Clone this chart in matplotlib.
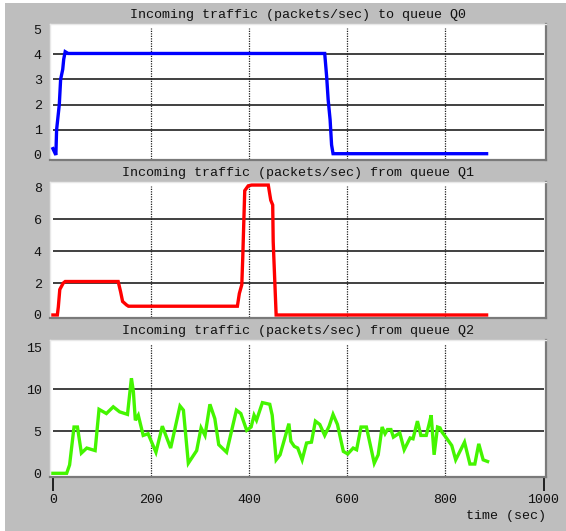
import matplotlib
matplotlib.use('Agg')
import matplotlib.pyplot as plt
from matplotlib.patches import Rectangle

# Incoming traffic samples (time in sec, rate in packets/sec)
t_q0 = [0, 6, 7.5, 13, 15.7, 20, 22, 25, 31, 554, 558, 561, 565, 568, 571, 884]
rate_q0 = [0.25, 0, 1.0, 2.0, 3.0, 3.4, 3.8, 4.1, 4.03, 4.03, 3.1, 2.2, 1.4, 0.4, 0.05, 0.05]

t_q1 = [0, 9, 11, 14, 21, 25, 133, 138, 142, 150, 154, 376, 380, 385, 387, 389,
        391, 398, 405, 439, 444, 448, 449, 452, 455, 884]
rate_q1 = [0, 0, 0.5, 1.6, 2.0, 2.1, 2.1, 1.45, 0.85, 0.63, 0.55, 0.55, 1.35, 1.9,
           3.65, 5.75, 7.8, 8.1, 8.15, 8.15, 7.2, 6.9, 4.6, 2.3, 0, 0]

t_q2 = [0, 28, 34, 43, 50, 58, 69, 86, 94, 109, 123, 136, 152, 160, 164, 168, 174,
        184, 194, 210, 223, 240, 259, 266, 276, 293, 302, 310, 320, 330, 338, 354,
        374, 383, 395, 404, 410, 415, 427, 442, 447, 455, 463, 481, 485, 492, 499,
        508, 517, 527, 535, 544, 554, 563, 571, 580, 592, 601, 612, 619, 628, 639,
        655, 663, 671, 677, 682, 689, 694, 707, 716, 728, 734, 743, 750, 761, 767,
        771, 777, 784, 789, 793, 802, 813, 821, 839, 850, 860, 868, 877, 886]
rate_q2 = [0, 0, 1.0, 5.5, 5.5, 2.4, 3.0, 2.7, 7.6, 7.1, 7.9, 7.3, 7.0, 11.3, 9.7,
           6.3, 6.9, 4.5, 4.7, 2.5, 5.6, 3.0, 8.0, 7.5, 1.2, 2.7, 5.4, 4.5, 8.2, 6.5,
           3.4, 2.5, 7.5, 7.1, 5.1, 5.5, 6.9, 6.3, 8.4, 8.2, 6.9, 1.6, 2.2, 5.9, 3.8,
           3.2, 3.0, 1.6, 3.6, 3.7, 6.2, 5.8, 4.5, 5.6, 7.0, 5.8, 2.6, 2.3, 3.0, 2.8,
           5.5, 5.5, 1.2, 2.2, 5.5, 4.7, 5.2, 5.2, 4.3, 4.8, 2.8, 4.2, 4.1, 6.2, 4.5,
           4.5, 5.9, 6.9, 2.2, 5.5, 5.4, 4.9, 4.2, 3.3, 1.6, 3.7, 1.1, 1.1, 3.5, 1.6,
           1.4]

x_ticks = [0, 200, 400, 600, 800, 1000]

panels = [
    ('Incoming traffic (packets/sec) to queue Q0', t_q0, rate_q0, '#0000ff',
     [0, 1, 2, 3, 4, 5], (-0.2, 5.2)),
    ('Incoming traffic (packets/sec) from queue Q1', t_q1, rate_q1, '#ff0000',
     [0, 2, 4, 6, 8], (-0.19, 8.34)),
    ('Incoming traffic (packets/sec) from queue Q2', t_q2, rate_q2, '#44f500',
     [0, 5, 10, 15], (-0.44, 15.84)),
]

plt.rcParams['font.family'] = ['Liberation Mono', 'DejaVu Sans Mono']
plt.rcParams['font.size'] = 9.6
text_color = '#111111'

fig = plt.figure(figsize=(5.66, 5.31), dpi=100, facecolor='white')
# gray panel behind everything
fig.patches.append(Rectangle((5 / 566, 0), 1, 1 - 3 / 531, transform=fig.transFigure,
                             facecolor='#bebebe', edgecolor='none', zorder=-10))

bottoms = [0.6987, 0.4011, 0.1017]
heights = [0.2561, 0.2561, 0.258]

for i, (title, t, rate, color, yticks, ylim) in enumerate(panels):
    ax = fig.add_axes([0.0883, bottoms[i], 0.8763, heights[i]])
    ax.set_facecolor('white')
    ax.set_xlim(-6, 1005)
    ax.set_ylim(*ylim)

    # solid horizontal grid inside, dotted vertical grid
    ax.hlines(yticks[1:-1], 0, 1000, color='#202020', lw=1.2, zorder=1)
    for x in x_ticks[1:-1]:
        ax.axvline(x, ymin=0.01, ymax=0.97, color='#202020', lw=0.9,
                   linestyle=(0, (1, 1)), zorder=1)

    ax.plot(t, rate, color=color, lw=2.4, zorder=3, solid_joinstyle='miter')

    ax.set_title(title, fontsize=9.6, color=text_color, pad=4)
    ax.set_yticks(yticks)
    ax.set_yticklabels([str(v) for v in yticks], color=text_color)
    ax.tick_params(axis='y', length=0, pad=6)

    for side in ('left', 'top'):
        ax.spines[side].set_color('#e8e8e8')
        ax.spines[side].set_linewidth(1)
    for side in ('right', 'bottom'):
        ax.spines[side].set_color('#7a7a7a')
        ax.spines[side].set_linewidth(1.6)

    if i < 2:
        ax.set_xticks([])
    else:
        ax.set_xticks(x_ticks)
        ax.set_xticklabels([str(v) for v in x_ticks], color=text_color)
        ax.tick_params(axis='x', direction='out', length=10, width=1.4,
                       color='#202020', pad=2)
        ticks = ax.xaxis.get_major_ticks()
        for tk in ticks[1:-1]:
            tk.tick1line.set_visible(False)
        ax.text(1.0, -0.24, 'time (sec)', transform=ax.transAxes, ha='right',
                va='top', color=text_color, fontsize=9.6)

fig.savefig('out.png', dpi=100, facecolor=fig.get_facecolor())
